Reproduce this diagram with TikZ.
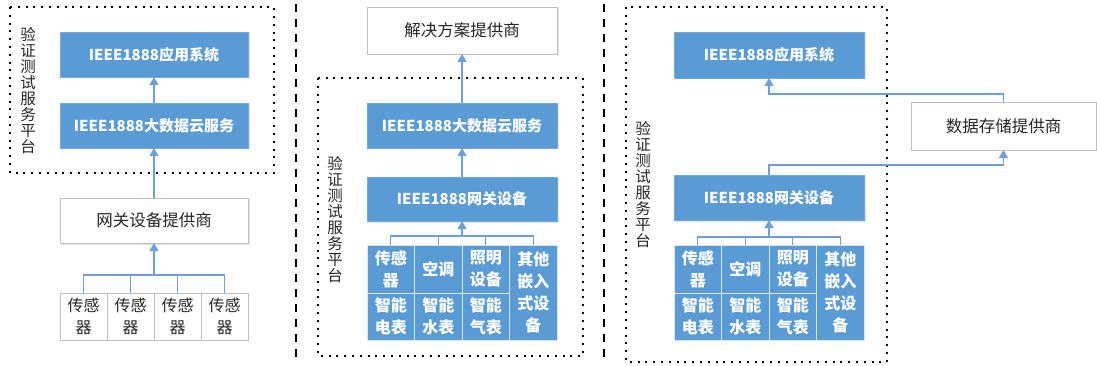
\documentclass[tikz,border=0pt]{standalone}
\usepackage{fontspec}
\setmainfont{Noto Sans CJK SC}
\usetikzlibrary{arrows.meta,shadows}
\definecolor{boxblue}{HTML}{5B9BD5}
\definecolor{linkblue}{HTML}{6F9FD8}
\definecolor{edgegray}{HTML}{BFBFBF}
\definecolor{txtdark}{HTML}{262626}
\begin{document}
\begin{tikzpicture}[x=1pt,y=-1pt,
  shade box/.style={drop shadow={shadow xshift=1.5pt,shadow yshift=-1.5pt,opacity=0.22}},
  bluebox/.style={rectangle, fill=boxblue, draw=boxblue!85!white, inner sep=0pt, outer sep=0pt,
    text=white, font=\fontsize{15}{17}\selectfont\bfseries, shade box},
  whitebox/.style={rectangle, fill=white, draw=edgegray, inner sep=0pt, outer sep=0pt,
    text=txtdark, font=\fontsize{16.5}{18}\selectfont, shade box},
  bluecell/.style={rectangle, fill=boxblue, draw=white!75!boxblue, line width=0.8pt, inner sep=0pt, outer sep=0pt,
    text=white, align=center, font=\fontsize{16}{22}\selectfont\bfseries},
  whitecell/.style={rectangle, fill=white, draw=edgegray, line width=0.6pt, inner sep=0pt, outer sep=0pt,
    text=txtdark, align=center, font=\fontsize{16}{22}\selectfont},
  dotbox/.style={draw=black, line width=2pt, dash pattern=on 2pt off 5.8pt},
  sepline/.style={draw=black, line width=2.6pt, dash pattern=on 8pt off 7pt},
  vlabel/.style={align=center, text=txtdark, font=\fontsize{15.5}{16}\selectfont},
  link/.style={draw=linkblue, line width=1.3pt},
  arr/.style={link, -{Triangle[width=9pt,length=8pt]}}
]
\useasboundingbox (0,0) rectangle (1097,366);

% separators
\draw[sepline] (296,4) -- (296,362);
\draw[sepline] (604,4) -- (604,362);

% ================= panel 1 =================
\draw[dotbox] (10,7) rectangle (274,173);
\node[vlabel] (p1lab) at (28,91) {验\\证\\测\\试\\服\\务\\平\\台};
\node[bluebox, minimum width=188, minimum height=45] (p1app) at (154,54.5) {IEEE1888应用系统};
\node[bluebox, minimum width=188, minimum height=45] (p1cloud) at (154,125.5) {IEEE1888大数据云服务};
\node[whitebox, minimum width=188, minimum height=45] (p1gw) at (154,220.5) {网关设备提供商};
\node[whitecell, minimum width=47, minimum height=47] (s1) at (83.5,316.5) {传感\\器};
\node[whitecell, minimum width=47, minimum height=47] (s2) at (130.5,316.5) {传感\\器};
\node[whitecell, minimum width=47, minimum height=47] (s3) at (177.5,316.5) {传感\\器};
\node[whitecell, minimum width=47, minimum height=47] (s4) at (224.5,316.5) {传感\\器};
\coordinate (b1) at (154,275);
\draw[link] (s1.north) |- (b1) -| (s4.north);
\draw[link] (s2.north) |- (b1);
\draw[link] (s3.north) |- (b1);
\draw[arr] (b1) -- (p1gw.south);
\draw[arr] (p1gw.north) -- (p1cloud.south);
\draw[arr] (p1cloud.north) -- (p1app.south);

% ================= panel 2 =================
\draw[dotbox] (318,78) rectangle (583,356);
\node[vlabel] (p2lab) at (335,220) {验\\证\\测\\试\\服\\务\\平\\台};
\node[whitebox, minimum width=190, minimum height=47] (p2sol) at (462,30.5) {解决方案提供商};
\node[bluebox, minimum width=190, minimum height=45] (p2cloud) at (462,125.5) {IEEE1888大数据云服务};
\node[bluebox, minimum width=190, minimum height=44] (p2gw) at (462,199) {IEEE1888网关设备};
\node[bluecell, minimum width=47.5, minimum height=48] (c21) at (390.75,269) {传感\\器};
\node[bluecell, minimum width=47.5, minimum height=48] (c22) at (438.25,269) {空调};
\node[bluecell, minimum width=47.5, minimum height=48] (c23) at (485.75,269) {照明\\设备};
\node[bluecell, minimum width=47.5, minimum height=95] (c24) at (533.25,292.5) {其他\\嵌入\\式设\\备};
\node[bluecell, minimum width=47.5, minimum height=47] (c25) at (390.75,316.5) {智能\\电表};
\node[bluecell, minimum width=47.5, minimum height=47] (c26) at (438.25,316.5) {智能\\水表};
\node[bluecell, minimum width=47.5, minimum height=47] (c27) at (485.75,316.5) {智能\\气表};
\coordinate (b2) at (462,236);
\draw[link] (c21.north) |- (b2) -| (c24.north);
\draw[link] (c22.north) |- (b2);
\draw[link] (c23.north) |- (b2);
\draw[arr] (b2) -- (p2gw.south);
\draw[arr] (p2gw.north) -- (p2cloud.south);
\draw[arr] (p2cloud.north) -- (p2sol.south);

% ================= panel 3 =================
\draw[dotbox] (626,7) rectangle (887,362);
\node[vlabel] (p3lab) at (643,185) {验\\证\\测\\试\\服\\务\\平\\台};
\node[bluebox, minimum width=190, minimum height=46] (p3app) at (769,55) {IEEE1888应用系统};
\node[bluebox, minimum width=190, minimum height=45] (p3gw) at (769,197.5) {IEEE1888网关设备};
\node[whitebox, minimum width=185, minimum height=48] (p3store) at (1003.5,126) {数据存储提供商};
\node[bluecell, minimum width=47.5, minimum height=48] (c31) at (697.75,269) {传感\\器};
\node[bluecell, minimum width=47.5, minimum height=48] (c32) at (745.25,269) {空调};
\node[bluecell, minimum width=47.5, minimum height=48] (c33) at (792.75,269) {照明\\设备};
\node[bluecell, minimum width=47.5, minimum height=95] (c34) at (840.25,292.5) {其他\\嵌入\\式设\\备};
\node[bluecell, minimum width=47.5, minimum height=47] (c35) at (697.75,316.5) {智能\\电表};
\node[bluecell, minimum width=47.5, minimum height=47] (c36) at (745.25,316.5) {智能\\水表};
\node[bluecell, minimum width=47.5, minimum height=47] (c37) at (792.75,316.5) {智能\\气表};
\coordinate (b3) at (769,237);
\draw[link] (c31.north) |- (b3) -| (c34.north);
\draw[link] (c32.north) |- (b3);
\draw[link] (c33.north) |- (b3);
\draw[arr] (b3) -- (p3gw.south);
\draw[arr] (p3gw.north) -- ++(0,-10) -| (p3store.south);
\draw[arr] (p3store.north) -- ++(0,-8) -| (p3app.south);
\end{tikzpicture}
\end{document}
